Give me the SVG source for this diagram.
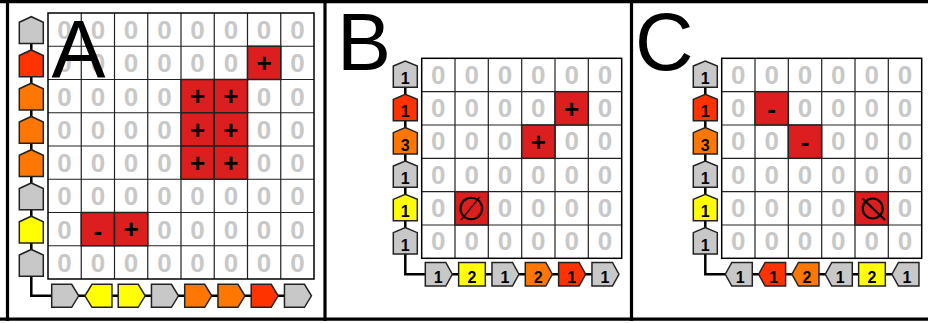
<svg xmlns="http://www.w3.org/2000/svg" xmlns:xlink="http://www.w3.org/1999/xlink" width="928" height="323" viewBox="0 0 928 323">
<style>
.z{font-family:"Liberation Sans",Arial,sans-serif;font-weight:bold;font-size:26px;fill:#c8c8c8;text-anchor:middle}
.s{font-family:"Liberation Sans",Arial,sans-serif;font-weight:bold;font-size:26px;fill:#000;text-anchor:middle}
.n{font-family:"Liberation Sans",Arial,sans-serif;font-weight:bold;font-size:16px;fill:#000;text-anchor:middle}
.big{font-family:"Liberation Sans",Arial,sans-serif;font-size:81px;fill:#000}
.grid{fill:none;stroke:#222;stroke-width:1.2}
.gb{fill:none;stroke:#000;stroke-width:1.5}
.red{fill:#dc1e1e;stroke:#222;stroke-width:1.5}
.sh{stroke:#222;stroke-width:1.5}
.g{fill:#c8c8c8}.r{fill:#ff3300}.o{fill:#ff7700}.y{fill:#ffff00}
.con{fill:none;stroke:#000;stroke-width:2.5}
.frame{fill:none;stroke:#000;stroke-width:3.2}
.nul{fill:none;stroke:#000;stroke-width:2.2}
</style>
<defs>
<polygon id="upA" points="0,5.5 12,0 24,5.5 24,26.7 0,26.7"/>
<polygon id="rA" points="0,0 20,0 27,11.5 20,23 0,23"/>
<polygon id="lA" points="7,0 27,0 27,23 7,23 0,11.5"/>
<polygon id="up" points="0,5 12,0 24,5 24,26.3 0,26.3"/>
<polygon id="rt" points="0,0 20.5,0 27,11.75 20.5,23.5 0,23.5"/>
<polygon id="lt" points="6.5,0 27,0 27,23.5 6.5,23.5 0,11.75"/>
<rect id="sq" x="0" y="0" width="26.7" height="23.5"/>
</defs>
<rect x="0" y="0" width="928" height="323" fill="#fff"/>

<!-- Panel A -->
<g id="gridA">
<rect x="48" y="13" width="266" height="266" fill="#fff"/>
<path class="grid" d="M81.25,13V279M114.5,13V279M147.75,13V279M181,13V279M214.25,13V279M247.5,13V279M280.75,13V279M48,46.25H314M48,79.5H314M48,112.75H314M48,146H314M48,179.25H314M48,212.5H314M48,245.75H314"/>
<rect class="gb" x="48" y="13" width="266" height="266"/>
<g>
<text class="z" x="64.6" y="39.1">0</text><text class="z" x="97.9" y="39.1">0</text><text class="z" x="131.1" y="39.1">0</text><text class="z" x="164.4" y="39.1">0</text><text class="z" x="197.6" y="39.1">0</text><text class="z" x="230.9" y="39.1">0</text><text class="z" x="264.1" y="39.1">0</text><text class="z" x="297.4" y="39.1">0</text>
<text class="z" x="64.6" y="72.4">0</text><text class="z" x="97.9" y="72.4">0</text><text class="z" x="131.1" y="72.4">0</text><text class="z" x="164.4" y="72.4">0</text><text class="z" x="197.6" y="72.4">0</text><text class="z" x="230.9" y="72.4">0</text><text class="z" x="297.4" y="72.4">0</text>
<text class="z" x="64.6" y="105.6">0</text><text class="z" x="97.9" y="105.6">0</text><text class="z" x="131.1" y="105.6">0</text><text class="z" x="164.4" y="105.6">0</text><text class="z" x="264.1" y="105.6">0</text><text class="z" x="297.4" y="105.6">0</text>
<text class="z" x="64.6" y="138.9">0</text><text class="z" x="97.9" y="138.9">0</text><text class="z" x="131.1" y="138.9">0</text><text class="z" x="164.4" y="138.9">0</text><text class="z" x="264.1" y="138.9">0</text><text class="z" x="297.4" y="138.9">0</text>
<text class="z" x="64.6" y="172.1">0</text><text class="z" x="97.9" y="172.1">0</text><text class="z" x="131.1" y="172.1">0</text><text class="z" x="164.4" y="172.1">0</text><text class="z" x="264.1" y="172.1">0</text><text class="z" x="297.4" y="172.1">0</text>
<text class="z" x="64.6" y="205.4">0</text><text class="z" x="97.9" y="205.4">0</text><text class="z" x="131.1" y="205.4">0</text><text class="z" x="164.4" y="205.4">0</text><text class="z" x="197.6" y="205.4">0</text><text class="z" x="230.9" y="205.4">0</text><text class="z" x="264.1" y="205.4">0</text><text class="z" x="297.4" y="205.4">0</text>
<text class="z" x="64.6" y="238.6">0</text><text class="z" x="164.4" y="238.6">0</text><text class="z" x="197.6" y="238.6">0</text><text class="z" x="230.9" y="238.6">0</text><text class="z" x="264.1" y="238.6">0</text><text class="z" x="297.4" y="238.6">0</text>
<text class="z" x="64.6" y="271.9">0</text><text class="z" x="97.9" y="271.9">0</text><text class="z" x="131.1" y="271.9">0</text><text class="z" x="164.4" y="271.9">0</text><text class="z" x="197.6" y="271.9">0</text><text class="z" x="230.9" y="271.9">0</text><text class="z" x="264.1" y="271.9">0</text><text class="z" x="297.4" y="271.9">0</text>
</g>
<g>
<rect class="red" x="247.5" y="46.25" width="33.25" height="33.25"/><text class="s" x="264.1" y="72">+</text>
<rect class="red" x="181" y="79.5" width="33.25" height="33.25"/><text class="s" x="197.6" y="105.2">+</text>
<rect class="red" x="214.25" y="79.5" width="33.25" height="33.25"/><text class="s" x="230.9" y="105.2">+</text>
<rect class="red" x="181" y="112.75" width="33.25" height="33.25"/><text class="s" x="197.6" y="138.5">+</text>
<rect class="red" x="214.25" y="112.75" width="33.25" height="33.25"/><text class="s" x="230.9" y="138.5">+</text>
<rect class="red" x="181" y="146" width="33.25" height="33.25"/><text class="s" x="197.6" y="171.7">+</text>
<rect class="red" x="214.25" y="146" width="33.25" height="33.25"/><text class="s" x="230.9" y="171.7">+</text>
<rect class="red" x="81.25" y="212.5" width="33.25" height="33.25"/><text class="s" x="97.9" y="240">-</text>
<rect class="red" x="114.5" y="212.5" width="33.25" height="33.25"/><text class="s" x="131.1" y="238.2">+</text>
</g>
</g>
<text id="labelA" class="big" x="51.5" y="77">A</text>

<g id="connectorsA"><path class="con" d="M31.3,30V295.8H295"/></g>
<g id="leftA">
<g id="a_l0"><use xlink:href="#upA" class="sh g" x="19.3" y="16.7"/></g>
<g id="a_l1"><use xlink:href="#upA" class="sh r" x="19.3" y="49.95"/></g>
<g id="a_l2"><use xlink:href="#upA" class="sh o" x="19.3" y="83.2"/></g>
<g id="a_l3"><use xlink:href="#upA" class="sh o" x="19.3" y="116.45"/></g>
<g id="a_l4"><use xlink:href="#upA" class="sh o" x="19.3" y="149.7"/></g>
<g id="a_l5"><use xlink:href="#upA" class="sh g" x="19.3" y="182.95"/></g>
<g id="a_l6"><use xlink:href="#upA" class="sh y" x="19.3" y="216.2"/></g>
<g id="a_l7"><use xlink:href="#upA" class="sh g" x="19.3" y="249.45"/></g>
</g>
<g id="bottomA">
<g id="a_b0"><use xlink:href="#rA" class="sh g" x="51.7" y="284.3"/></g>
<g id="a_b1"><use xlink:href="#lA" class="sh y" x="84.95" y="284.3"/></g>
<g id="a_b2"><use xlink:href="#rA" class="sh y" x="118.2" y="284.3"/></g>
<g id="a_b3"><use xlink:href="#rA" class="sh g" x="151.45" y="284.3"/></g>
<g id="a_b4"><use xlink:href="#rA" class="sh o" x="184.7" y="284.3"/></g>
<g id="a_b5"><use xlink:href="#rA" class="sh o" x="217.95" y="284.3"/></g>
<g id="a_b6"><use xlink:href="#rA" class="sh r" x="251.2" y="284.3"/></g>
<g id="a_b7"><use xlink:href="#rA" class="sh g" x="284.45" y="284.3"/></g>
</g>

<!-- Panel B -->
<g id="gridB">
<rect x="421.7" y="58.3" width="200" height="200" fill="#fff"/>
<path class="grid" d="M455,58.3V258.3M488.3,58.3V258.3M521.7,58.3V258.3M555,58.3V258.3M588.3,58.3V258.3M421.7,91.7H621.7M421.7,125H621.7M421.7,158.3H621.7M421.7,191.7H621.7M421.7,225H621.7"/>
<rect class="gb" x="421.7" y="58.3" width="200" height="200"/>
<g>
<text class="z" x="438.3" y="83.5">0</text><text class="z" x="471.7" y="83.5">0</text><text class="z" x="505" y="83.5">0</text><text class="z" x="538.3" y="83.5">0</text><text class="z" x="571.7" y="83.5">0</text><text class="z" x="605" y="83.5">0</text>
<text class="z" x="438.3" y="116.8">0</text><text class="z" x="471.7" y="116.8">0</text><text class="z" x="505" y="116.8">0</text><text class="z" x="538.3" y="116.8">0</text><text class="z" x="605" y="116.8">0</text>
<text class="z" x="438.3" y="150.1">0</text><text class="z" x="471.7" y="150.1">0</text><text class="z" x="505" y="150.1">0</text><text class="z" x="571.7" y="150.1">0</text><text class="z" x="605" y="150.1">0</text>
<text class="z" x="438.3" y="183.5">0</text><text class="z" x="471.7" y="183.5">0</text><text class="z" x="505" y="183.5">0</text><text class="z" x="538.3" y="183.5">0</text><text class="z" x="571.7" y="183.5">0</text><text class="z" x="605" y="183.5">0</text>
<text class="z" x="438.3" y="216.8">0</text><text class="z" x="505" y="216.8">0</text><text class="z" x="538.3" y="216.8">0</text><text class="z" x="571.7" y="216.8">0</text><text class="z" x="605" y="216.8">0</text>
<text class="z" x="438.3" y="250.1">0</text><text class="z" x="471.7" y="250.1">0</text><text class="z" x="505" y="250.1">0</text><text class="z" x="538.3" y="250.1">0</text><text class="z" x="571.7" y="250.1">0</text><text class="z" x="605" y="250.1">0</text>
</g>
<g>
<rect class="red" x="555" y="91.7" width="33.3" height="33.3"/><text class="s" x="571.7" y="117.5">+</text>
<rect class="red" x="521.7" y="125" width="33.3" height="33.3"/><text class="s" x="538.3" y="150.8">+</text>
<rect class="red" x="455" y="191.7" width="33.3" height="33.3"/><text x="470.8" y="219.5" style="font-family:'DejaVu Sans',sans-serif;font-size:33px;fill:#000;text-anchor:middle">∅</text>
</g>
</g>
<text id="labelB" class="big" x="337" y="70">B</text>

<g id="connectorsB"><path class="con" d="M405.3,74V274.2H610"/></g>
<g id="leftB">
<g id="b_l0"><use xlink:href="#up" class="sh g" x="393.3" y="61"/><text class="n" x="405.3" y="83.8">1</text></g>
<g id="b_l1"><use xlink:href="#up" class="sh r" x="393.3" y="94.33"/><text class="n" x="405.3" y="117.1">1</text></g>
<g id="b_l2"><use xlink:href="#up" class="sh o" x="393.3" y="127.66"/><text class="n" x="405.3" y="150.5">3</text></g>
<g id="b_l3"><use xlink:href="#up" class="sh g" x="393.3" y="161"/><text class="n" x="405.3" y="183.8">1</text></g>
<g id="b_l4"><use xlink:href="#up" class="sh y" x="393.3" y="194.33"/><text class="n" x="405.3" y="217.1">1</text></g>
<g id="b_l5"><use xlink:href="#up" class="sh g" x="393.3" y="227.66"/><text class="n" x="405.3" y="250.5">1</text></g>
</g>
<g id="bottomB">
<g id="b_b0"><use xlink:href="#rt" class="sh g" x="425.3" y="262.5"/><text class="n" x="438.3" y="283">1</text></g>
<g id="b_b1"><use xlink:href="#sq" class="sh y" x="458.63" y="262.5"/><text class="n" x="472" y="283">2</text></g>
<g id="b_b2"><use xlink:href="#rt" class="sh g" x="491.96" y="262.5"/><text class="n" x="505" y="283">1</text></g>
<g id="b_b3"><use xlink:href="#rt" class="sh o" x="525.3" y="262.5"/><text class="n" x="538.3" y="283">2</text></g>
<g id="b_b4"><use xlink:href="#rt" class="sh r" x="558.63" y="262.5"/><text class="n" x="571.6" y="283">1</text></g>
<g id="b_b5"><use xlink:href="#rt" class="sh g" x="591.96" y="262.5"/><text class="n" x="605" y="283">1</text></g>
</g>

<!-- Panel C -->
<g id="gridC">
<rect x="721.7" y="58.3" width="200" height="200" fill="#fff"/>
<path class="grid" d="M755,58.3V258.3M788.3,58.3V258.3M821.7,58.3V258.3M855,58.3V258.3M888.3,58.3V258.3M721.7,91.7H921.7M721.7,125H921.7M721.7,158.3H921.7M721.7,191.7H921.7M721.7,225H921.7"/>
<rect class="gb" x="721.7" y="58.3" width="200" height="200"/>
<g>
<text class="z" x="738.3" y="83.5">0</text><text class="z" x="771.7" y="83.5">0</text><text class="z" x="805" y="83.5">0</text><text class="z" x="838.3" y="83.5">0</text><text class="z" x="871.7" y="83.5">0</text><text class="z" x="905" y="83.5">0</text>
<text class="z" x="738.3" y="116.8">0</text><text class="z" x="805" y="116.8">0</text><text class="z" x="838.3" y="116.8">0</text><text class="z" x="871.7" y="116.8">0</text><text class="z" x="905" y="116.8">0</text>
<text class="z" x="738.3" y="150.1">0</text><text class="z" x="771.7" y="150.1">0</text><text class="z" x="838.3" y="150.1">0</text><text class="z" x="871.7" y="150.1">0</text><text class="z" x="905" y="150.1">0</text>
<text class="z" x="738.3" y="183.5">0</text><text class="z" x="771.7" y="183.5">0</text><text class="z" x="805" y="183.5">0</text><text class="z" x="838.3" y="183.5">0</text><text class="z" x="871.7" y="183.5">0</text><text class="z" x="905" y="183.5">0</text>
<text class="z" x="738.3" y="216.8">0</text><text class="z" x="771.7" y="216.8">0</text><text class="z" x="805" y="216.8">0</text><text class="z" x="838.3" y="216.8">0</text><text class="z" x="905" y="216.8">0</text>
<text class="z" x="738.3" y="250.1">0</text><text class="z" x="771.7" y="250.1">0</text><text class="z" x="805" y="250.1">0</text><text class="z" x="838.3" y="250.1">0</text><text class="z" x="871.7" y="250.1">0</text><text class="z" x="905" y="250.1">0</text>
</g>
<g>
<rect class="red" x="755" y="91.7" width="33.3" height="33.3"/><text class="s" x="771.7" y="117.5">-</text>
<rect class="red" x="788.3" y="125" width="33.3" height="33.3"/><text class="s" x="805" y="150.8">-</text>
<rect class="red" x="855" y="191.7" width="33.3" height="33.3"/>
<circle class="nul" cx="872.7" cy="208.5" r="10"/>
<path class="nul" d="M862.5,198.5L885,220"/>
</g>
</g>
<text id="labelC" class="big" x="635" y="70">C</text>

<g id="connectorsC"><path class="con" d="M705.3,74V274.2H910"/></g>
<g id="leftC">
<g id="c_l0"><use xlink:href="#up" class="sh g" x="693.3" y="61"/><text class="n" x="705.3" y="83.8">1</text></g>
<g id="c_l1"><use xlink:href="#up" class="sh r" x="693.3" y="94.33"/><text class="n" x="705.3" y="117.1">1</text></g>
<g id="c_l2"><use xlink:href="#up" class="sh o" x="693.3" y="127.66"/><text class="n" x="705.3" y="150.5">3</text></g>
<g id="c_l3"><use xlink:href="#up" class="sh g" x="693.3" y="161"/><text class="n" x="705.3" y="183.8">1</text></g>
<g id="c_l4"><use xlink:href="#up" class="sh y" x="693.3" y="194.33"/><text class="n" x="705.3" y="217.1">1</text></g>
<g id="c_l5"><use xlink:href="#up" class="sh g" x="693.3" y="227.66"/><text class="n" x="705.3" y="250.5">1</text></g>
</g>
<g id="bottomC">
<g id="c_b0"><use xlink:href="#lt" class="sh g" x="725.3" y="262.5"/><text class="n" x="740.3" y="283">1</text></g>
<g id="c_b1"><use xlink:href="#lt" class="sh r" x="758.63" y="262.5"/><text class="n" x="773.6" y="283">1</text></g>
<g id="c_b2"><use xlink:href="#lt" class="sh o" x="791.96" y="262.5"/><text class="n" x="807" y="283">2</text></g>
<g id="c_b3"><use xlink:href="#lt" class="sh g" x="825.3" y="262.5"/><text class="n" x="840.3" y="283">1</text></g>
<g id="c_b4"><use xlink:href="#sq" class="sh y" x="858.63" y="262.5"/><text class="n" x="872" y="283">2</text></g>
<g id="c_b5"><use xlink:href="#lt" class="sh g" x="891.96" y="262.5"/><text class="n" x="907" y="283">1</text></g>
</g>

<g id="frame">
<path class="frame" d="M0,1.6H928M7.5,0V321M0,319.2H928M325,0V321M631.5,0V321"/>
</g>
</svg>
